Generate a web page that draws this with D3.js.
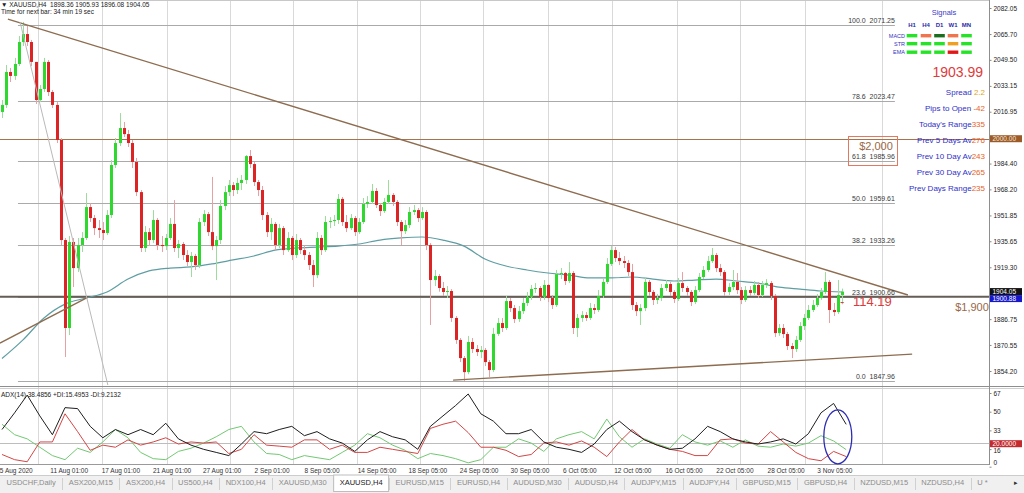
<!DOCTYPE html>
<html><head><meta charset="utf-8">
<script src="https://cdn.jsdelivr.net/npm/d3@7"></script>
<style>
html,body{margin:0;padding:0;background:#fff;overflow:hidden}
svg{display:block;font-family:"Liberation Sans",Arial,sans-serif}
</style></head><body>
<svg id="chart" width="1024" height="493"></svg>
<script>
// ---------------- DATA ----------------
const symbolTitle = "XAUUSD,H4  1898.36 1905.93 1896.08 1904.05";
const timerText = "Time for next bar: 34 min 19 sec";
const firstOpen = 2016.8;
const closes = [
2021.2,2041.9,2039.4,2046.9,2060.7,2065.7,2060.7,2048.2,2024.3,2031.2,
2048.2,2029.3,2021.2,1999.2,1936.4,1881.2,1935.2,1918.8,1933.3,1937.7,
1957.1,1950.2,1943.9,1942.7,1940.8,1952.1,1983.5,1997.3,2006.7,2002.9,
1997.3,1985.4,1966.5,1931.4,1941.4,1936.4,1949.0,1933.3,1932.6,1937.7,
1946.5,1931.4,1933.9,1927.0,1922.6,1926.4,1920.7,1947.7,1952.7,1941.4,
1932.6,1936.4,1957.8,1966.5,1970.9,1967.8,1972.2,1974.1,1989.1,1984.1,
1972.8,1967.8,1952.1,1941.4,1946.5,1933.3,1943.9,1930.1,1937.7,1927.0,
1936.4,1930.1,1927.0,1920.7,1914.4,1937.7,1930.1,1947.7,1948.3,1949.0,
1962.2,1947.7,1943.9,1950.2,1941.4,1947.7,1959.0,1960.3,1967.2,1958.4,
1954.6,1960.3,1964.7,1960.3,1947.7,1942.0,1945.8,1954.0,1955.2,1950.2,
1954.0,1933.3,1911.3,1913.8,1906.3,1903.8,1904.4,1887.5,1873.7,1862.3,
1853.5,1872.4,1868.0,1866.1,1867.4,1859.8,1854.8,1877.5,1884.3,1881.2,
1898.1,1893.7,1886.8,1891.8,1896.9,1900.7,1905.7,1906.3,1900.7,1908.2,
1900.0,1895.6,1915.0,1915.7,1910.7,1915.7,1881.2,1887.5,1889.3,1887.5,
1893.7,1892.5,1901.3,1910.1,1921.4,1930.1,1925.1,1923.2,1922.0,1916.3,
1895.6,1891.8,1893.7,1910.1,1903.8,1898.8,1900.0,1906.3,1908.8,1903.8,
1899.4,1909.4,1906.3,1903.8,1897.5,1905.0,1913.2,1917.6,1923.2,1927.0,
1918.8,1916.3,1903.8,1906.9,1910.1,1905.0,1898.8,1905.0,1903.2,1908.2,
1901.9,1908.2,1909.4,1901.3,1878.0,1881.2,1877.4,1869.9,1868.0,1873.7,
1882.4,1887.5,1892.5,1895.6,1900.0,1903.8,1910.1,1892.5,1891.2,1901.9,
1904.05];
const highs = [
2024.3,2046.3,2044.4,2050.7,2064.5,2073.3,2070.8,2062.0,2048.2,2033.7,
2050.7,2049.4,2030.6,2023.0,2000.4,1937.7,1938.9,1937.7,1937.7,1941.4,
1965.9,1959.6,1952.1,1949.0,1947.7,1955.2,1986.6,2000.4,2016.1,2010.5,
2005.5,1999.2,1987.9,1967.8,1945.2,1943.9,1955.2,1950.2,1938.9,1940.2,
1950.2,1961.5,1936.4,1935.2,1930.1,1928.9,1927.7,1950.2,1955.2,1954.0,
1976.0,1938.9,1961.5,1970.3,1974.1,1972.8,1975.4,1977.2,1989.8,1992.9,
1985.4,1974.1,1970.3,1954.0,1950.2,1947.7,1946.5,1945.2,1941.4,1938.9,
1940.2,1937.7,1933.3,1928.9,1923.9,1941.4,1939.5,1951.5,1950.8,1952.1,
1965.3,1963.4,1952.1,1952.7,1951.5,1950.2,1962.8,1964.0,1971.6,1969.1,
1959.6,1962.8,1974.1,1965.9,1961.5,1949.0,1949.0,1957.1,1958.4,1956.5,
1957.1,1955.2,1934.5,1917.6,1915.0,1910.1,1907.5,1905.6,1888.7,1874.9,
1863.6,1876.2,1874.9,1870.5,1869.9,1868.6,1861.1,1881.3,1887.5,1887.5,
1901.3,1900.0,1895.6,1895.0,1900.0,1903.8,1908.2,1909.4,1907.5,1911.3,
1908.8,1901.9,1917.6,1918.8,1916.3,1922.6,1916.9,1890.0,1891.8,1891.2,
1896.9,1896.2,1905.0,1912.6,1925.1,1932.6,1932.0,1928.9,1926.4,1923.9,
1921.4,1897.5,1896.2,1912.6,1911.3,1905.0,1902.5,1908.8,1911.3,1910.1,
1905.0,1912.6,1916.3,1907.5,1905.0,1907.5,1915.7,1920.1,1926.4,1931.4,
1928.3,1921.4,1917.6,1909.4,1917.6,1915.7,1906.9,1907.5,1907.5,1910.7,
1910.1,1910.7,1911.9,1910.7,1902.5,1883.7,1883.7,1878.7,1871.8,1876.2,
1884.9,1890.0,1895.6,1898.8,1902.5,1906.3,1916.3,1911.3,1896.9,1911.3,
1905.93];
const lows = [
2013.0,2019.3,2035.6,2036.9,2045.6,2058.2,2058.2,2045.6,2021.8,2023.0,
2029.3,2026.8,2019.3,1997.3,1933.3,1863.0,1876.8,1906.9,1916.3,1928.9,
1936.4,1947.7,1939.5,1937.7,1936.4,1939.5,1950.2,1981.6,1995.4,2001.1,
1994.8,1981.6,1964.0,1928.9,1928.9,1932.6,1934.5,1930.1,1928.9,1930.1,
1936.4,1928.9,1925.1,1923.9,1920.1,1913.2,1917.6,1918.8,1945.2,1938.9,
1930.1,1911.3,1933.9,1955.2,1964.0,1964.0,1965.3,1967.8,1971.6,1981.6,
1970.3,1964.0,1949.0,1938.3,1936.4,1930.1,1931.4,1927.0,1928.9,1923.9,
1925.1,1927.6,1923.9,1917.6,1906.9,1912.5,1927.0,1928.9,1943.9,1945.2,
1946.5,1945.2,1941.4,1942.7,1938.9,1940.2,1946.5,1956.5,1959.0,1956.5,
1951.5,1953.4,1959.0,1957.8,1945.2,1933.3,1940.2,1943.9,1952.1,1947.7,
1949.0,1930.1,1883.1,1907.5,1904.0,1901.3,1900.0,1885.0,1871.2,1859.8,
1848.0,1852.2,1865.5,1863.6,1862.3,1857.3,1850.4,1853.5,1876.2,1878.7,
1879.9,1891.2,1884.3,1885.0,1890.0,1895.0,1898.8,1903.2,1898.1,1898.8,
1897.5,1893.1,1894.4,1911.9,1908.2,1909.4,1877.4,1875.5,1885.0,1885.6,
1886.2,1890.0,1891.2,1900.0,1908.8,1920.1,1922.6,1920.7,1918.8,1913.8,
1892.5,1888.7,1883.1,1891.8,1901.3,1895.6,1896.2,1898.1,1904.4,1901.3,
1896.9,1898.1,1903.8,1901.3,1895.0,1896.2,1903.8,1911.9,1916.3,1922.0,
1916.3,1913.8,1901.3,1901.9,1905.0,1902.5,1896.2,1897.5,1901.3,1901.9,
1900.0,1900.7,1906.3,1898.8,1875.5,1876.2,1874.9,1867.4,1862.3,1866.1,
1872.4,1879.9,1886.2,1891.2,1894.4,1898.8,1902.5,1884.3,1888.7,1890.0,
1896.08];
// moving average, one value every 5 bars
const maEvery = 5;
const maValues = [1862.0,1873.7,1887.5,1896.2,1900.0,1903.8,1911.9,1917.0,1918.8,1919.5,
1921.4,1923.9,1926.4,1930.1,1931.4,1932.0,1932.6,1933.9,1936.4,1937.7,
1938.3,1936.4,1932.6,1924.5,1920.1,1917.6,1915.7,1914.4,1912.6,1912.6,
1913.2,1911.9,1910.7,1911.3,1911.9,1910.7,1909.4,1906.9,1905.6,1904.4,1903.8];
// ADX(14) panel, one value every 3 bars
const adxEvery = 3;
const adxValues = [33.8,49.0,65.1,46.2,29.1,53.7,52.8,36.7,26.3,33.8,
29.1,33.8,29.1,39.5,25.3,19.6,15.8,13.0,10.1,20.6,
31.9,30.0,33.8,36.7,28.2,31.9,25.3,21.5,13.9,24.4,
31.9,27.2,24.4,15.8,36.7,46.2,55.6,66.1,48.1,41.4,
30.0,30.0,33.8,22.5,17.7,15.8,13.0,20.6,33.8,41.4,
31.9,24.4,19.6,15.8,16.8,25.3,36.7,31.9,25.3,22.5,
20.6,22.5,25.3,20.6,30.0,49.0,57.5,38.5];
const plusDI = [38.6,29.1,25.3,17.7,10.1,6.4,16.8,13.0,22.5,33.8,
26.3,13.0,7.3,6.4,13.9,16.8,21.5,27.2,33.8,36.7,
22.5,12.0,11.1,6.4,10.1,8.2,6.4,13.0,19.6,30.0,
26.3,19.6,14.9,7.3,12.0,10.1,7.3,3.5,6.4,17.7,
17.7,25.3,21.5,13.9,25.3,29.1,31.9,25.3,43.3,27.2,
17.7,25.3,20.6,16.8,29.1,22.5,19.6,23.4,17.7,24.4,
18.7,17.7,20.6,18.7,21.5,28.2,23.4,15.5];
const minusDI = [11.1,6.4,4.5,22.5,22.5,48.1,31.9,14.9,19.6,17.7,
24.4,19.6,22.5,26.3,20.6,22.5,21.5,22.5,12.0,15.8,
29.1,19.6,18.7,17.7,24.4,24.4,15.8,19.6,13.0,13.0,
17.7,15.8,13.9,12.0,34.8,38.6,41.4,31.0,17.7,17.7,
14.9,9.2,11.1,21.5,22.5,19.6,23.4,17.7,9.2,22.5,
33.8,24.4,19.6,15.8,13.9,10.1,10.1,24.4,25.3,21.5,
20.6,31.9,22.5,13.0,7.3,5.4,13.9,9.2];
const adxLabel = "ADX(14) 38.4856 +DI:15.4953 -DI:9.2132";
const adxLevel = 20;
const adxTicks = [67,50,33,16,0];
const priceTicks = [2082.05,2065.70,2049.50,2033.15,2016.95,1984.40,1968.20,1951.85,1935.65,1919.30,1886.75,1870.55,1854.20];
const fibLevels = [100.0,78.6,61.8,50.0,38.2,23.6,0.0];
const fibPrices = [2071.25,2023.47,1985.96,1959.61,1933.26,1900.66,1847.96];
const fibBars = [3.8,212.6];
const roundLevelPrice = 2000.00;
const hLinePrice = 1900.88;
const bidPrice = 1904.05;
const trendLines = [
  [[1.4,2075.1],[215.7,1901.9]],
  [[107.4,1848.5],[216.7,1864.8]],
  [[-0.5,1871.7],[20.5,1900.6]]
];
const rayLine = [[4.3,2073.3],[25.2,1845.4]];
const gridBars = [8.6,23.8,39.3,54.3,69.3,84.5,99.5,114.5,130,145.2,160.7,175.7,191.2,209.5];
const timeLabels = ["5 Aug 2020","11 Aug 01:00","17 Aug 01:00","21 Aug 01:00","27 Aug 01:00","2 Sep 01:00","8 Sep 05:00","14 Sep 05:00","18 Sep 05:00","24 Sep 05:00","30 Sep 05:00","6 Oct 05:00","12 Oct 05:00","16 Oct 05:00","22 Oct 05:00","28 Oct 05:00","3 Nov 05:00"];
const timeLabelBars = [3.4,16,28.3,40.5,52.4,64.3,76.2,89.3,101.4,113.6,125.7,137.6,150.2,162.4,174.5,186.7,198.3];
const signalPeriods = ["H1","H4","D1","W1","MN"];
const signalRows = ["MACD","STR","EMA"];
const signalStates = [
  ["up","down","strong","down","up"],
  ["up","up","up","warn","up"],
  ["up","up","up","bear","up"]
];
const currentPrice = "1903.99";
const infoLabels = ["Spread ","Pips to Open ","Today's Range","Prev 5 Days Av","Prev 10 Day Av","Prev 30 Day Av","Prev Days Range"];
const infoValues = ["2.2","-42","335","276","243","265","235"];
const noteUpper = "$2,000", noteLower = "$1,900", distanceText = "114.19";
const tabs = ["USDCHF,Daily","ASX200,M15","ASX200,H4","US500,H4","NDX100,H4","XAUUSD,M30","XAUUSD,H4","EURUSD,M15","EURUSD,H4","AUDUSD,M30","AUDUSD,H4","AUDJPY,M15","AUDJPY,H4","GBPUSD,M15","GBPUSD,H4","NZDUSD,M15","NZDUSD,H4","U *"];
const activeTab = "XAUUSD,H4";

// ---------------- DRAW ----------------
const svg = d3.select("#chart");
const R = 989.5; // right edge of plot
svg.append("rect").attr("width",1024).attr("height",493).attr("fill","#fff");
const defs = svg.append("defs");
defs.append("clipPath").attr("id","clipMain").append("rect").attr("x",0).attr("y",0).attr("width",R).attr("height",386);
defs.append("clipPath").attr("id","clipAdx").append("rect").attr("x",0).attr("y",389).attr("width",R).attr("height",75);

const x = d3.scaleLinear().domain([0, closes.length-1]).range([2, 842]);
const y = d3.scaleLinear().domain([1854.20, 2082.05]).range([371, 8]);
const ya = d3.scaleLinear().domain([0, 67]).range([466.7, 393]);

// vertical grid
svg.append("g").selectAll("line").data(gridBars).join("line")
  .attr("x1",d=>Math.round(x(d))+0.5).attr("x2",d=>Math.round(x(d))+0.5)
  .attr("y1",0).attr("y2",464).attr("stroke","#d9d9d9").attr("stroke-width",1);

const main = svg.append("g").attr("clip-path","url(#clipMain)");

// fibonacci levels
main.selectAll("line.fib").data(fibPrices).join("line").attr("class","fib")
  .attr("x1",x(fibBars[0])).attr("x2",x(fibBars[1]))
  .attr("y1",d=>Math.round(y(d))+0.5).attr("y2",d=>Math.round(y(d))+0.5)
  .attr("stroke","#aaaaaa").attr("stroke-width",1);

// horizontal level lines
main.append("line").attr("x1",0).attr("x2",R).attr("y1",Math.round(y(roundLevelPrice))+0.5).attr("y2",Math.round(y(roundLevelPrice))+0.5)
  .attr("stroke","#a8734c").attr("stroke-width",1);
main.append("line").attr("x1",0).attr("x2",R).attr("y1",y(hLinePrice)).attr("y2",y(hLinePrice))
  .attr("stroke","#655d56").attr("stroke-width",2);

// moving average
main.append("path").datum(maValues)
  .attr("d", d3.line().x((d,k)=>x(k*maEvery)).y(d=>y(d)).curve(d3.curveMonotoneX))
  .attr("fill","none").attr("stroke","#5e9ea3").attr("stroke-width",1.2);

// candles
const candles = closes.map((c,i)=>{
  const o = i===0 ? firstOpen : closes[i-1];
  return {i,o,c,h:Math.max(highs[i],o,c),l:Math.min(lows[i],o,c)};
});
const upCol="#2ed82e", dnCol="#dd2424", upWick="#9edc9e", dnWick="#e6a2a2";
main.append("g").selectAll("line").data(candles).join("line")
  .attr("x1",d=>Math.round(x(d.i))+0.5).attr("x2",d=>Math.round(x(d.i))+0.5)
  .attr("y1",d=>y(d.h)).attr("y2",d=>y(d.l))
  .attr("stroke",d=>d.c>=d.o?upWick:dnWick).attr("stroke-width",1);
main.append("g").selectAll("rect").data(candles).join("rect")
  .attr("x",d=>Math.round(x(d.i))-1).attr("width",3)
  .attr("y",d=>y(Math.max(d.o,d.c)))
  .attr("height",d=>Math.max(1,Math.abs(y(d.o)-y(d.c))))
  .attr("fill",d=>d.c>=d.o?upCol:dnCol);

// trend lines
main.selectAll("line.tl").data(trendLines).join("line").attr("class","tl")
  .attr("x1",d=>x(d[0][0])).attr("y1",d=>y(d[0][1]))
  .attr("x2",d=>x(d[1][0])).attr("y2",d=>y(d[1][1]))
  .attr("stroke","#8d6c4f").attr("stroke-width",1.4);
main.append("line")
  .attr("x1",x(rayLine[0][0])).attr("y1",y(rayLine[0][1]))
  .attr("x2",x(rayLine[1][0])).attr("y2",y(rayLine[1][1]))
  .attr("stroke","#b9b9b9").attr("stroke-width",1);

// fib labels
svg.append("g").selectAll("text").data(fibLevels).join("text")
  .attr("x",x(fibBars[1])).attr("y",(d,k)=>Math.round(y(fibPrices[k]))-2)
  .attr("text-anchor","end").attr("font-size","7px").attr("fill","#3a3a3a")
  .text((d,k)=>d.toFixed(1)+"  "+fibPrices[k].toFixed(2)).style("white-space","pre");

// notes
svg.append("rect").attr("x",848.5).attr("y",136.5).attr("width",49).attr("height",29)
  .attr("fill","none").attr("stroke","#e2785f").attr("stroke-width",1);
svg.append("text").attr("x",876).attr("y",150).attr("text-anchor","middle")
  .attr("font-size","11px").attr("fill","#9a6846").text(noteUpper);
svg.append("text").attr("x",972).attr("y",310.5).attr("text-anchor","middle")
  .attr("font-size","11px").attr("fill","#9a6846").text(noteLower);
svg.append("text").attr("x",840).attr("y",306).attr("font-size","13px").attr("fill","#dc3a3a").text("-");
svg.append("text").attr("x",853).attr("y",306).attr("font-size","13px").attr("fill","#dc3a3a").text(distanceText);

// title
svg.append("text").attr("x",1).attr("y",6.5).attr("font-size","6.5px").attr("fill","#222").text("\u25BC "+symbolTitle).style("white-space","pre");
svg.append("text").attr("x",1).attr("y",13.5).attr("font-size","6.5px").attr("fill","#222").text(timerText);

// signals panel
const colX = [912,926,939.5,953,966.5];
const stateCol = {up:"#27e327",down:"#f0744e",strong:"#1b6e1b",warn:"#eda021",bear:"#e01818"};
svg.append("text").attr("x",944).attr("y",15).attr("text-anchor","middle").attr("font-size","7.5px").attr("fill","#3b3bc4").text("Signals");
svg.append("g").selectAll("text").data(signalPeriods).join("text")
  .attr("x",(d,k)=>colX[k]).attr("y",27).attr("text-anchor","middle")
  .attr("font-size","6px").attr("font-weight","bold").attr("fill","#2a2aa8").text(d=>d);
const rowY=[35.7,43.7,52.2];
signalRows.forEach((r,ri)=>{
  svg.append("text").attr("x",905).attr("y",rowY[ri]+2).attr("text-anchor","end")
    .attr("font-size","5.5px").attr("fill","#3333c0").text(r);
  svg.append("g").selectAll("rect").data(signalStates[ri]).join("rect")
    .attr("x",(d,k)=>colX[k]-5.3).attr("y",rowY[ri]-1.7).attr("width",10.6).attr("height",3.4)
    .attr("fill",d=>stateCol[d]);
});
svg.append("text").attr("x",983).attr("y",77).attr("text-anchor","end").attr("font-size","14px").attr("fill","#e03b3b").text(currentPrice);
const infoY=[95,111,127,143,159,175,191];
infoLabels.forEach((lab,k)=>{
  const t=svg.append("text").attr("x",985).attr("y",infoY[k]).attr("text-anchor","end").attr("font-size","8px").style("white-space","pre");
  t.append("tspan").attr("fill","#3030c8").text(lab);
  t.append("tspan").attr("fill",k===0?"#e0a41c":"#e8622a").text(infoValues[k]);
});

// panel separators / borders
svg.append("line").attr("x1",0).attr("x2",1024).attr("y1",386.5).attr("y2",386.5).attr("stroke","#8e8e8e");
svg.append("line").attr("x1",0).attr("x2",1024).attr("y1",388.5).attr("y2",388.5).attr("stroke","#cfcfcf");
svg.append("line").attr("x1",0).attr("x2",R).attr("y1",464.5).attr("y2",464.5).attr("stroke","#9a9a9a");
svg.append("line").attr("x1",0).attr("x2",R).attr("y1",0.5).attr("y2",0.5).attr("stroke","#c8c8c8");
svg.append("line").attr("x1",R).attr("x2",R).attr("y1",0).attr("y2",465).attr("stroke","#8e8e8e");

// price axis
const pa = svg.append("g").attr("transform",`translate(${R},0)`)
  .call(d3.axisRight(y).tickValues(priceTicks).tickFormat(d3.format(".2f")).tickSize(2).tickPadding(2));
pa.select(".domain").remove();
pa.selectAll("line").attr("stroke","#888");
pa.selectAll("text").attr("font-size","6.5px").attr("fill","#222").attr("font-family","Liberation Sans, Arial, sans-serif");

function tag(yc, label, fill, col){
  svg.append("rect").attr("x",R+0.5).attr("y",yc-3.5).attr("width",32).attr("height",7).attr("fill",fill);
  svg.append("text").attr("x",R+3).attr("y",yc+2.3).attr("font-size","6.5px").attr("fill",col).text(label);
}
tag(y(roundLevelPrice), roundLevelPrice.toFixed(2), "#9b5a28", "#f6e6d6");
const yb = y(bidPrice);
tag(yb, bidPrice.toFixed(2), "#111", "#fff");
tag(Math.max(y(hLinePrice), yb+7), hLinePrice.toFixed(2), "#1717cc", "#fff");

// ADX panel
const adx = svg.append("g").attr("clip-path","url(#clipAdx)");
adx.append("line").attr("x1",0).attr("x2",R).attr("y1",Math.round(ya(adxLevel))-1.5).attr("y2",Math.round(ya(adxLevel))-1.5).attr("stroke","#bdbdbd");
const aline = d3.line().x((d,k)=>x(k*adxEvery)).y(d=>ya(d));
adx.append("path").datum(plusDI).attr("d",aline).attr("fill","none").attr("stroke","#72c872").attr("stroke-width",1);
adx.append("path").datum(minusDI).attr("d",aline).attr("fill","none").attr("stroke","#d34646").attr("stroke-width",1);
adx.append("path").datum(adxValues).attr("d",aline).attr("fill","none").attr("stroke","#1e1e1e").attr("stroke-width",1);
svg.append("ellipse").attr("cx",x(199)).attr("cy",ya(27.2)).attr("rx",14).attr("ry",27)
  .attr("fill","none").attr("stroke","#2d2db4").attr("stroke-width",1.3);
svg.append("text").attr("x",1).attr("y",397).attr("font-size","6.5px").attr("fill","#222").text(adxLabel);
const aa = svg.append("g").attr("transform",`translate(${R},0)`)
  .call(d3.axisRight(ya).tickValues(adxTicks).tickFormat(d3.format("d")).tickSize(2).tickPadding(2));
aa.select(".domain").remove();
aa.selectAll("line").attr("stroke","#888");
aa.selectAll("text").attr("font-size","6.5px").attr("fill","#222").attr("font-family","Liberation Sans, Arial, sans-serif");
aa.selectAll(".tick").filter(d=>d===0).select("text").attr("dy","-0.4em");
aa.selectAll(".tick").filter(d=>d===16).select("text").attr("dy","0.55em");
tag(ya(adxLevel)-1, adxLevel.toFixed(4), "#c42a2e", "#fff");

// time axis
svg.append("g").selectAll("text").data(timeLabels).join("text")
  .attr("x",(d,k)=>x(timeLabelBars[k])).attr("y",472.5).attr("text-anchor","middle")
  .attr("font-size","6.5px").attr("fill","#333").text(d=>d);

// tabs
svg.append("rect").attr("x",0).attr("y",475).attr("width",1024).attr("height",18).attr("fill","#f0f0f0");
svg.append("line").attr("x1",0).attr("x2",1024).attr("y1",475.5).attr("y2",475.5).attr("stroke","#cccccc");
let cx = 0;
tabs.forEach((name,k)=>{
  const g = svg.append("g");
  const t = g.append("text").attr("y",484.5).attr("font-size","7.5px")
    .attr("fill", name===activeTab ? "#1a1a1a" : "#8c8c8c").text(name);
  const w = t.node().getComputedTextLength() + 13;
  if(name===activeTab){
    g.insert("rect","text").attr("x",cx+0.5).attr("y",475).attr("width",w-1).attr("height",16.5)
      .attr("fill","#fff").attr("stroke","#bdbdbd");
  }
  t.attr("x",cx+6.5);
  cx += w;
  if(k<tabs.length-1){
    svg.append("line").attr("x1",Math.round(cx)+0.5).attr("x2",Math.round(cx)+0.5).attr("y1",478).attr("y2",490).attr("stroke","#d0d0d0");
  }
});
svg.append("text").attr("x",1014).attr("y",485).attr("font-size","7px").attr("fill","#333").text("\u25B8");
</script></body></html>
